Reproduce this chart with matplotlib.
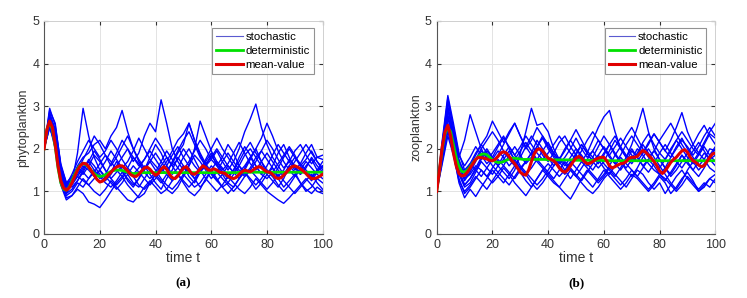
import numpy as np
import matplotlib
matplotlib.use("Agg")
import matplotlib.pyplot as plt

plt.rcParams["font.family"] = ["Liberation Sans", "DejaVu Sans"]

# time grids
t_fine = np.arange(0, 101, 1)
t_coarse = np.arange(0, 101, 2)

# ---- phytoplankton ----
phyto_det = [2.00, 2.45, 2.62, 2.45, 2.05, 1.55, 1.20, 1.05, 1.03, 1.10,
             1.25, 1.40, 1.53, 1.62, 1.65, 1.63, 1.57, 1.49, 1.42, 1.37,
             1.35, 1.36, 1.39, 1.43, 1.47, 1.49, 1.50, 1.50, 1.49, 1.47,
             1.45, 1.43, 1.42, 1.42, 1.43, 1.44, 1.44, 1.44, 1.44, 1.44,
             1.44, 1.44, 1.44, 1.44, 1.44, 1.44, 1.44, 1.44, 1.44, 1.44,
             1.44, 1.44, 1.44, 1.44, 1.44, 1.44, 1.44, 1.44, 1.44, 1.44,
             1.44, 1.44, 1.44, 1.44, 1.44, 1.44, 1.44, 1.44, 1.44, 1.44,
             1.45, 1.45, 1.45, 1.45, 1.45, 1.45, 1.45, 1.45, 1.45, 1.45,
             1.45, 1.45, 1.45, 1.45, 1.45, 1.45, 1.45, 1.45, 1.45, 1.45,
             1.45, 1.45, 1.45, 1.45, 1.45, 1.45, 1.45, 1.45, 1.45, 1.45,
             1.45]
phyto_mean = [2.00, 2.45, 2.65, 2.50, 2.10, 1.60, 1.25, 1.08, 1.03, 1.08,
              1.20, 1.35, 1.50, 1.60, 1.66, 1.65, 1.58, 1.48, 1.38, 1.28,
              1.22, 1.24, 1.30, 1.38, 1.45, 1.52, 1.57, 1.60, 1.60, 1.55,
              1.48, 1.40, 1.36, 1.35, 1.40, 1.48, 1.55, 1.57, 1.52, 1.44,
              1.38, 1.42, 1.52, 1.58, 1.52, 1.40, 1.32, 1.30, 1.36, 1.46,
              1.55, 1.58, 1.50, 1.42, 1.40, 1.45, 1.53, 1.60, 1.56, 1.50,
              1.50, 1.53, 1.50, 1.45, 1.44, 1.42, 1.36, 1.32, 1.30, 1.33,
              1.40, 1.46, 1.50, 1.48, 1.46, 1.50, 1.55, 1.58, 1.56, 1.50,
              1.46, 1.45, 1.40, 1.33, 1.30, 1.32, 1.38, 1.45, 1.52, 1.58,
              1.60, 1.57, 1.53, 1.48, 1.42, 1.35, 1.30, 1.30, 1.32, 1.36,
              1.40]
phyto_stoch = [
    [2.0, 2.8, 2.3, 1.4, 0.95, 1.2, 1.9, 2.95, 2.3, 1.8,
     1.5, 1.3, 1.45, 1.7, 1.5, 1.25, 1.1, 1.3, 1.6, 1.4,
     1.2, 1.05, 1.3, 1.5, 1.8, 1.6, 1.35, 1.2, 1.45, 1.7,
     1.9, 1.6, 1.4, 1.2, 1.1, 1.3, 1.55, 1.8, 2.0, 1.7,
     1.4, 1.25, 1.1, 1.3, 1.6, 1.45, 1.2, 1.05, 0.95, 1.1,
     1.0],
    [2.0, 2.6, 2.5, 1.6, 1.15, 1.3, 1.6, 1.8, 1.9, 2.1,
     2.2, 2.0, 2.3, 2.5, 2.9, 2.4, 2.0, 1.7, 1.5, 1.8,
     2.1, 1.9, 1.6, 1.4, 1.55, 1.8, 2.0, 1.75, 1.5, 1.3,
     1.5, 1.7, 1.55, 1.35, 1.5, 1.8, 2.05, 1.85, 1.6, 1.4,
     1.6, 1.85, 2.1, 1.9, 1.7, 1.5, 1.65, 1.9, 2.1, 1.8,
     1.85],
    [2.0, 2.7, 2.2, 1.3, 1.0, 1.15, 1.35, 1.55, 1.7, 1.5,
     1.3, 1.4, 1.65, 1.9, 2.2, 2.0, 1.7, 1.9, 2.3, 2.6,
     2.4, 3.15, 2.6, 2.0, 1.7, 1.5, 1.7, 1.95, 2.2, 2.0,
     1.75, 1.6, 1.8, 2.1, 1.9, 1.6, 1.4, 1.55, 1.8, 1.6,
     1.4, 1.6, 1.9, 2.1, 1.8, 1.55, 1.4, 1.6, 1.75, 1.5,
     1.4],
    [2.0, 2.5, 2.1, 1.2, 0.85, 0.9, 1.05, 0.95, 0.75, 0.7,
     0.62, 0.8, 1.0, 1.2, 1.35, 1.15, 1.0, 0.85, 0.95, 1.2,
     1.4, 1.25, 1.05, 0.95, 1.1, 1.35, 1.55, 1.3, 1.1, 1.25,
     1.5, 1.3, 1.1, 0.95, 1.1, 1.3, 1.45, 1.25, 1.05, 1.2,
     1.4, 1.55, 1.3, 1.1, 1.25, 1.4, 1.2, 1.0, 1.1, 1.3,
     1.2],
    [2.0, 2.9, 2.6, 1.6, 1.2, 1.35, 1.5, 1.4, 1.6, 1.85,
     1.7, 1.5, 1.3, 1.45, 1.6, 1.4, 1.2, 1.1, 1.3, 1.5,
     1.35, 1.2, 1.4, 1.7, 1.95, 2.2, 2.4, 2.1, 1.8, 1.6,
     1.75, 1.95, 1.7, 1.5, 1.7, 2.0, 2.4, 2.7, 3.05, 2.5,
     2.1, 1.8, 1.6, 1.4, 1.6, 1.8, 1.65, 1.5, 1.35, 1.5,
     1.6],
    [2.0, 2.75, 2.4, 1.5, 1.1, 1.25, 1.5, 1.75, 2.0, 2.3,
     2.1, 1.85, 1.6, 1.8, 2.05, 2.3, 2.0, 1.75, 1.55, 1.7,
     1.9, 1.7, 1.5, 1.65, 1.9, 2.1, 2.6, 2.2, 1.9, 1.65,
     1.8, 2.0, 1.8, 1.6, 1.45, 1.6, 1.85, 2.0, 1.8, 1.95,
     2.2, 2.0, 1.75, 1.55, 1.7, 1.95, 2.1, 1.85, 1.65, 1.8,
     1.75],
    [2.0, 2.55, 2.0, 1.15, 0.8, 0.9, 1.1, 1.3, 1.15, 1.0,
     0.9, 1.05, 1.25, 1.1, 0.95, 0.8, 0.75, 0.9, 1.1, 1.25,
     1.1, 0.95, 1.05, 1.25, 1.4, 1.2, 1.0, 0.9, 1.05, 1.3,
     1.15, 1.0, 1.15, 1.35, 1.2, 1.05, 0.95, 1.1, 1.3, 1.15,
     1.0, 0.9, 0.8, 0.72, 0.85, 1.0, 1.15, 1.3, 1.15, 1.0,
     0.95],
    [2.0, 2.65, 2.3, 1.45, 1.05, 1.2, 1.4, 1.6, 1.5, 1.35,
     1.5, 1.7, 1.95, 1.75, 1.55, 1.7, 1.95, 2.25, 2.0, 1.75,
     1.6, 1.45, 1.6, 1.85, 2.05, 1.8, 1.6, 2.0, 2.65, 2.3,
     1.95, 1.7, 1.5, 1.65, 1.9, 2.15, 1.9, 1.65, 1.5, 1.7,
     1.9, 1.7, 1.5, 1.35, 1.5, 1.7, 1.9, 2.1, 1.9, 1.7,
     1.55],
    [2.0, 2.85, 2.45, 1.55, 1.1, 1.2, 1.35, 1.25, 1.15, 1.3,
     1.5, 1.35, 1.2, 1.05, 1.2, 1.4, 1.6, 1.45, 1.3, 1.15,
     1.3, 1.5, 1.7, 1.95, 2.2, 2.35, 2.6, 2.2, 1.85, 1.6,
     1.4, 1.25, 1.4, 1.6, 1.45, 1.3, 1.5, 1.75, 2.0, 2.25,
     2.6, 2.3, 1.95, 1.7, 1.5, 1.35, 1.5, 1.7, 1.55, 1.4,
     1.3],
    [2.0, 2.6, 2.2, 1.35, 0.95, 1.05, 1.25, 1.45, 1.7, 1.95,
     1.75, 1.5, 1.3, 1.15, 1.3, 1.5, 1.35, 1.15, 1.05, 1.2,
     1.4, 1.6, 1.8, 1.6, 1.4, 1.25, 1.1, 1.25, 1.45, 1.65,
     1.45, 1.25, 1.1, 1.2, 1.4, 1.6, 1.45, 1.3, 1.15, 1.3,
     1.5, 1.35, 1.15, 1.0, 1.15, 1.35, 1.55, 1.4, 1.25, 1.45,
     1.6],
    [2.0, 2.7, 2.35, 1.5, 1.1, 1.3, 1.55, 1.45, 1.3, 1.45,
     1.65, 1.85, 1.7, 1.5, 1.35, 1.55, 1.8, 1.65, 1.45, 1.3,
     1.45, 1.7, 1.95, 1.75, 1.55, 1.4, 1.6, 1.85, 1.7, 1.5,
     1.3, 1.45, 1.7, 1.9, 1.7, 1.5, 1.35, 1.5, 1.7, 1.95,
     1.75, 1.55, 1.35, 1.5, 1.75, 1.6, 1.4, 1.55, 1.8, 1.6,
     1.45],
    [2.0, 2.95, 2.55, 1.65, 1.2, 1.1, 1.25, 1.5, 1.75, 1.6,
     1.4, 1.25, 1.4, 1.6, 1.8, 2.0, 1.8, 1.6, 1.75, 1.95,
     1.75, 1.55, 1.4, 1.25, 1.4, 1.6, 1.45, 1.3, 1.5, 1.75,
     2.0, 2.25, 2.0, 1.8, 1.6, 1.45, 1.6, 1.8, 1.6, 1.4,
     1.3, 1.45, 1.65, 1.85, 2.05, 1.85, 1.6, 1.45, 1.3, 1.5,
     1.7],
    [2.0, 2.5, 2.15, 1.3, 0.9, 1.0, 1.2, 1.1, 1.3, 1.5,
     1.35, 1.2, 1.1, 1.25, 1.45, 1.3, 1.15, 1.3, 1.5, 1.7,
     1.5, 1.3, 1.15, 1.05, 1.2, 1.4, 1.25, 1.1, 1.2, 1.4,
     1.6, 1.45, 1.3, 1.15, 1.0, 1.15, 1.35, 1.5, 1.35, 1.2,
     1.05, 1.2, 1.4, 1.25, 1.1, 0.95, 1.1, 1.25, 1.4, 1.2,
     1.05],
    [2.0, 2.75, 2.45, 1.55, 1.15, 1.4, 1.7, 1.95, 2.2, 2.0,
     1.8, 1.95, 2.2, 2.0, 1.75, 1.55, 1.4, 1.55, 1.75, 2.0,
     2.25, 2.05, 1.8, 1.6, 1.75, 2.0, 1.8, 1.6, 1.45, 1.6,
     1.85, 1.65, 1.45, 1.3, 1.5, 1.7, 1.95, 2.15, 1.9, 1.7,
     1.5, 1.35, 1.55, 1.8, 2.0, 1.8, 1.6, 1.75, 1.95, 1.7,
     1.5],
]

# ---- zooplankton ----
zoo_det = [1.00, 1.50, 2.00, 2.35, 2.50, 2.40, 2.10, 1.80, 1.58, 1.47,
           1.45, 1.50, 1.58, 1.67, 1.75, 1.82, 1.87, 1.88, 1.86, 1.80,
           1.74, 1.70, 1.68, 1.68, 1.70, 1.73, 1.76, 1.78, 1.78, 1.77,
           1.76, 1.75, 1.75, 1.75, 1.75, 1.75, 1.75, 1.75, 1.75, 1.75,
           1.74, 1.74, 1.74, 1.74, 1.74, 1.74, 1.74, 1.74, 1.74, 1.74,
           1.73, 1.73, 1.73, 1.73, 1.73, 1.73, 1.73, 1.73, 1.73, 1.73,
           1.72, 1.72, 1.72, 1.72, 1.72, 1.72, 1.72, 1.72, 1.72, 1.72,
           1.72, 1.72, 1.72, 1.72, 1.72, 1.72, 1.72, 1.72, 1.72, 1.72,
           1.72, 1.72, 1.72, 1.72, 1.72, 1.72, 1.72, 1.72, 1.72, 1.72,
           1.72, 1.72, 1.72, 1.72, 1.72, 1.72, 1.72, 1.72, 1.72, 1.72,
           1.72]
zoo_mean = [1.00, 1.50, 2.05, 2.40, 2.55, 2.30, 1.90, 1.60, 1.42, 1.36,
            1.38, 1.45, 1.55, 1.65, 1.75, 1.80, 1.79, 1.78, 1.76, 1.73,
            1.72, 1.75, 1.82, 1.90, 1.93, 1.90, 1.82, 1.72, 1.65, 1.55,
            1.45, 1.40, 1.38, 1.50, 1.70, 1.88, 1.98, 2.00, 1.95, 1.85,
            1.78, 1.75, 1.72, 1.65, 1.55, 1.48, 1.45, 1.50, 1.60, 1.70,
            1.78, 1.82, 1.78, 1.70, 1.65, 1.66, 1.70, 1.75, 1.78, 1.80,
            1.80, 1.72, 1.60, 1.55, 1.58, 1.62, 1.65, 1.66, 1.70, 1.78,
            1.80, 1.80, 1.82, 1.90, 1.96, 1.92, 1.85, 1.78, 1.70, 1.60,
            1.48, 1.42, 1.48, 1.58, 1.68, 1.75, 1.80, 1.88, 1.95, 1.98,
            1.92, 1.80, 1.72, 1.68, 1.62, 1.58, 1.60, 1.70, 1.80, 1.88,
            1.90]
zoo_stoch = [
    [1.0, 2.1, 3.2, 2.5, 1.8, 2.2, 2.8, 2.4, 2.0, 1.75,
     1.9, 2.1, 2.3, 2.0, 1.7, 1.55, 1.7, 1.9, 2.2, 2.0,
     1.8, 1.6, 1.75, 2.0, 2.2, 2.45, 2.2, 1.95, 1.8, 1.65,
     1.85, 2.1, 2.3, 2.05, 1.85, 1.7, 1.9, 2.15, 2.35, 2.1,
     1.9, 1.75, 1.95, 2.2, 2.4, 2.2, 2.0, 1.85, 2.1, 2.35,
     2.25],
    [1.0, 1.9, 2.8, 2.2, 1.5, 1.15, 1.3, 1.5, 1.75, 1.95,
     1.8, 1.6, 1.45, 1.3, 1.5, 1.9, 2.4, 2.95, 2.55, 2.6,
     2.4, 2.0, 1.75, 1.6, 1.8, 2.0, 1.85, 1.65, 1.5, 1.7,
     1.9, 2.1, 1.9, 1.7, 1.55, 1.75, 2.0, 1.85, 1.65, 1.5,
     1.4, 1.55, 1.8, 2.05, 2.25, 2.0, 1.8, 1.6, 1.75, 2.0,
     1.95],
    [1.0, 1.7, 2.4, 1.9, 1.2, 0.85, 1.05, 0.88, 1.1, 1.3,
     1.5, 1.35, 1.2, 1.4, 1.6, 1.45, 1.25, 1.1, 1.3, 1.5,
     1.35, 1.2, 1.1, 0.95, 0.82, 1.05, 1.3, 1.5, 1.35, 1.2,
     1.35, 1.55, 1.4, 1.25, 1.1, 1.3, 1.5, 1.4, 1.2, 1.05,
     1.2, 0.95, 1.15, 1.35, 1.5, 1.3, 1.15, 1.0, 1.1, 1.3,
     1.4],
    [1.0, 2.0, 2.95, 2.3, 1.6, 1.3, 1.5, 1.75, 2.0, 2.2,
     2.4, 2.2, 1.95, 1.75, 1.6, 1.8, 2.05, 2.3, 2.1, 1.85,
     1.7, 1.9, 2.15, 2.3, 2.05, 1.85, 1.7, 1.9, 2.2, 2.5,
     2.75, 2.9, 2.4, 2.0, 1.8, 1.65, 1.85, 2.1, 1.9, 1.7,
     1.55, 1.75, 2.0, 2.2, 2.0, 1.8, 1.65, 1.85, 2.05, 1.85,
     1.7],
    [1.0, 1.85, 2.6, 2.1, 1.4, 1.1, 1.2, 1.45, 1.7, 1.55,
     1.4, 1.6, 1.85, 2.05, 1.85, 1.6, 1.45, 1.3, 1.15, 1.3,
     1.5, 1.7, 1.55, 1.4, 1.6, 1.85, 2.1, 1.9, 1.7, 1.55,
     1.7, 1.95, 2.2, 2.0, 1.8, 2.1, 2.5, 2.95, 2.4, 2.0,
     1.75, 1.55, 1.4, 1.6, 1.85, 1.7, 1.5, 1.35, 1.55, 1.8,
     2.0],
    [1.0, 2.2, 3.25, 2.6, 1.9, 1.5, 1.65, 1.9, 2.1, 1.9,
     1.7, 1.85, 2.1, 2.35, 2.6, 2.3, 2.0, 2.2, 2.5, 2.3,
     2.05, 1.85, 1.65, 1.8, 2.0, 2.25, 2.0, 1.8, 1.95, 2.2,
     2.0, 1.8, 1.65, 1.85, 2.1, 2.3, 2.1, 1.9, 2.1, 2.35,
     2.15, 1.95, 2.2, 2.5, 2.85, 2.4, 2.1, 1.9, 2.15, 2.4,
     2.6],
    [1.0, 1.75, 2.5, 1.95, 1.3, 0.95, 1.1, 1.3, 1.5, 1.35,
     1.2, 1.35, 1.55, 1.4, 1.2, 1.05, 0.9, 1.1, 1.3, 1.5,
     1.65, 1.5, 1.35, 1.5, 1.7, 1.55, 1.4, 1.25, 1.1, 1.3,
     1.5, 1.35, 1.2, 1.05, 1.2, 1.4, 1.3, 1.15, 1.0, 1.15,
     1.35, 1.2, 0.95, 1.1, 1.3, 1.45, 1.25, 1.0, 1.15, 1.3,
     1.2],
    [1.0, 2.05, 3.0, 2.4, 1.75, 1.4, 1.6, 1.85, 2.1, 2.3,
     2.65, 2.4, 2.15, 2.4, 2.6, 2.3, 2.05, 1.85, 2.05, 2.3,
     2.1, 1.9, 1.75, 1.95, 2.2, 2.0, 1.8, 1.6, 1.8, 2.05,
     2.3, 2.1, 1.85, 2.05, 2.3, 2.5, 2.25, 2.0, 1.8, 1.95,
     2.2, 2.4, 2.6, 2.35, 2.1, 1.9, 2.1, 2.35, 2.55, 2.3,
     2.1],
    [1.0, 1.95, 2.7, 2.3, 1.65, 1.3, 1.4, 1.6, 1.5, 1.35,
     1.55, 1.75, 1.6, 1.45, 1.3, 1.5, 1.7, 1.9, 1.7, 1.55,
     1.4, 1.6, 1.8, 1.65, 1.5, 1.35, 1.55, 1.75, 1.95, 1.75,
     1.55, 1.4, 1.6, 1.8, 1.65, 1.5, 1.35, 1.55, 1.75, 1.6,
     1.4, 1.25, 1.45, 1.65, 1.85, 1.65, 1.5, 1.7, 1.9, 1.75,
     1.6],
    [1.0, 1.8, 2.55, 2.0, 1.45, 1.15, 1.3, 1.55, 1.8, 2.0,
     1.8, 1.6, 1.75, 1.95, 1.75, 1.55, 1.4, 1.55, 1.75, 1.95,
     2.15, 1.9, 1.7, 1.5, 1.3, 1.5, 1.7, 1.55, 1.4, 1.25,
     1.4, 1.6, 1.85, 1.7, 1.5, 1.35, 1.55, 1.8, 2.0, 1.8,
     1.6, 1.4, 1.2, 1.05, 1.25, 1.5, 1.7, 1.9, 1.75, 1.55,
     1.45],
    [1.0, 1.9, 2.75, 2.25, 1.6, 1.25, 1.45, 1.7, 1.95, 1.8,
     1.6, 1.45, 1.6, 1.85, 2.05, 1.85, 1.65, 1.8, 2.05, 2.25,
     2.0, 1.8, 1.6, 1.45, 1.65, 1.9, 2.1, 1.9, 1.7, 1.85,
     2.05, 1.85, 1.65, 1.5, 1.7, 1.95, 1.8, 1.6, 1.45, 1.65,
     1.9, 2.1, 1.9, 1.7, 1.55, 1.75, 1.95, 2.15, 1.95, 1.75,
     1.85],
    [1.0, 2.0, 2.9, 2.35, 1.7, 1.45, 1.65, 1.5, 1.35, 1.55,
     1.75, 1.95, 1.8, 1.6, 1.75, 1.95, 2.15, 1.95, 1.75, 1.6,
     1.45, 1.3, 1.5, 1.7, 1.55, 1.4, 1.25, 1.45, 1.65, 1.85,
     1.65, 1.5, 1.35, 1.55, 1.8, 2.0, 1.8, 1.6, 1.75, 1.95,
     1.75, 1.55, 1.35, 1.5, 1.7, 1.9, 1.7, 1.5, 1.65, 1.85,
     2.05],
    [1.0, 1.65, 2.3, 1.85, 1.25, 1.0, 1.15, 1.35, 1.2, 1.05,
     1.25, 1.45, 1.3, 1.15, 1.35, 1.55, 1.4, 1.2, 1.05, 1.2,
     1.4, 1.25, 1.1, 1.3, 1.5, 1.35, 1.2, 1.05, 0.95, 1.1,
     1.3, 1.45, 1.3, 1.15, 1.3, 1.5, 1.35, 1.2, 1.05, 1.2,
     1.4, 1.3, 1.15, 1.0, 1.15, 1.35, 1.2, 1.05, 1.2, 1.1,
     1.3],
    [1.0, 2.15, 3.1, 2.5, 1.85, 1.6, 1.8, 2.05, 1.85, 1.65,
     1.8, 2.05, 2.25, 2.05, 1.85, 2.05, 2.3, 2.1, 1.9, 1.75,
     1.9, 2.1, 2.3, 2.1, 1.9, 1.75, 1.95, 2.2, 2.4, 2.2,
     2.0, 1.85, 2.05, 2.25, 2.05, 1.85, 1.7, 1.9, 2.15, 2.35,
     2.15, 1.95, 1.8, 2.0, 2.2, 2.05, 1.85, 2.05, 2.3, 2.5,
     2.3],
]

panels = [
    ("phytoplankton", "(a)", phyto_stoch, phyto_det, phyto_mean),
    ("zooplankton", "(b)", zoo_stoch, zoo_det, zoo_mean),
]

TEXT_COLOR = "#333333"

fig = plt.figure(figsize=(7.47, 2.98), dpi=100)
lefts = [0.059, 0.5846]
for left, (ylabel, tag, stoch, det, mean) in zip(lefts, panels):
    ax = fig.add_axes([left, 0.2148, 0.3730, 0.7148])
    for k, path in enumerate(stoch):
        ax.plot(t_coarse, path, color="#0000ff", lw=1.0,
                label="stochastic" if k == 0 else None, zorder=2)
    ax.plot(t_fine, det, color="#00e000", lw=2.0, label="deterministic", zorder=3)
    ax.plot(t_fine, mean, color="#e00000", lw=2.2, label="mean-value", zorder=4)

    ax.set_xlim(0, 100)
    ax.set_ylim(0, 5)
    ax.set_xticks([0, 20, 40, 60, 80, 100])
    ax.set_yticks([0, 1, 2, 3, 4, 5])
    ax.grid(True, color="#e3e3e3", lw=0.7)
    ax.set_axisbelow(True)
    ax.tick_params(direction="in", length=3, labelsize=9,
                   colors=TEXT_COLOR, top=True, right=True, pad=3.5)
    for s in ("left", "bottom"):
        ax.spines[s].set_color("#555555")
        ax.spines[s].set_linewidth(0.8)
    for s in ("top", "right"):
        ax.spines[s].set_color("#d0d0d0")
        ax.spines[s].set_linewidth(0.7)
    ax.set_xlabel("time t", fontsize=10, color=TEXT_COLOR, labelpad=0)
    ax.set_ylabel(ylabel, fontsize=9, color=TEXT_COLOR, labelpad=2)

    leg = ax.legend(loc="upper right", bbox_to_anchor=(0.968, 0.965),
                    fontsize=8.2, frameon=True, fancybox=False,
                    handlelength=2.3, handletextpad=0.25, borderpad=0.35,
                    labelspacing=0.32, borderaxespad=0)
    leg.get_frame().set_edgecolor("#777777")
    leg.get_frame().set_linewidth(0.8)
    leg.legend_handles[0].set_linewidth(0.8)
    leg.legend_handles[0].set_color("#5a5ad0")

    ax.text(0.5, -0.205, tag, transform=ax.transAxes, ha="center", va="top",
            fontsize=9.5, fontweight="bold", family="Liberation Serif")

fig.savefig("out.png", dpi=100)
